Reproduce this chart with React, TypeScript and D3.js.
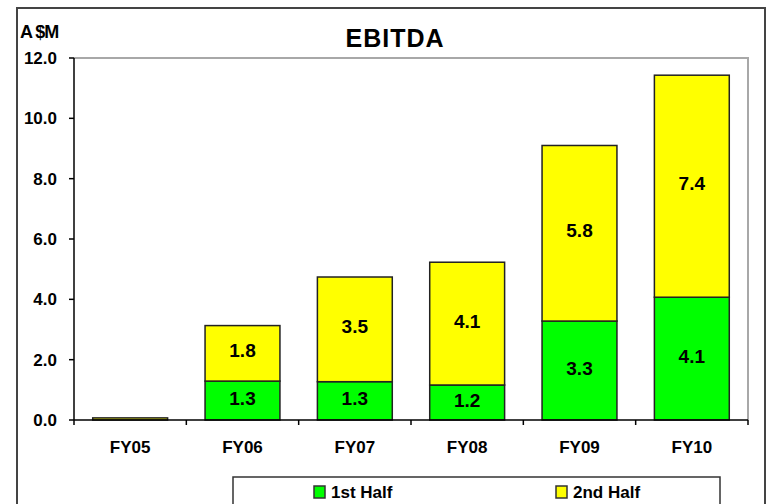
import React from "react";
import * as d3 from "d3";

const categories = ["FY05", "FY06", "FY07", "FY08", "FY09", "FY10"];
const firstHalf = [0.0, 1.29, 1.27, 1.16, 3.28, 4.07];
const secondHalf = [0.07, 1.84, 3.47, 4.07, 5.82, 7.36];
const yTicks = [0, 2, 4, 6, 8, 10, 12];
const seriesNames = ["1st Half", "2nd Half"];
const seriesColors = ["#00ff00", "#ffff00"];

const W = 766, H = 504;
const plot = { left: 74, right: 748, top: 58, bottom: 420 };
const font = "'Liberation Sans', Arial, sans-serif";

export default function App() {
  const x = d3.scaleBand<string>().domain(categories).range([plot.left, plot.right]).paddingInner(1 / 3).paddingOuter(1 / 6);
  const y = d3.scaleLinear().domain([0, 12]).range([plot.bottom, plot.top]);
  const bandStep = x.step();
  const stacked = categories.map((c, i) => {
    const a = firstHalf[i], b = secondHalf[i];
    return { c, segs: [ { y0: 0, y1: a, v: a, k: 0 }, { y0: a, y1: a + b, v: b, k: 1 } ] };
  });
  return (
    <div style={{ position: "absolute", left: 0, top: 0 }}>
      <svg width={W} height={H} style={{ display: "block" }}>
        <rect x={0} y={0} width={W} height={H} fill="#fff" />
        <rect x={17} y={8} width={748} height={510} fill="#fff" stroke="#444" strokeWidth={2} />
        {/* plot area border */}
        <path d={`M${plot.left},${plot.top}H${plot.right}V${plot.bottom}`} fill="none" stroke="#a8a8a8" strokeWidth={2} />
        {/* title */}
        <text x={395} y={47} textAnchor="middle" fontFamily={font} fontWeight="bold" fontSize={25} letterSpacing={1} fill="#000">EBITDA</text>
        <text x={20} y={38} fontFamily={font} fontWeight="bold" fontSize={18} fill="#000" letterSpacing={-1}>A $M</text>
        {/* bars */}
        {stacked.map((s) =>
          s.segs.map((g) => {
            const h = y(g.y0) - y(g.y1);
            if (h <= 0) return null;
            return (
              <g key={s.c + g.k}>
                <rect x={x(s.c)!} y={y(g.y1)} width={x.bandwidth()} height={h} fill={seriesColors[g.k]} stroke="#222" strokeWidth={1.5} />
                {g.v >= 0.5 && (
                  <text x={x(s.c)! + x.bandwidth() / 2} y={(y(g.y0) + y(g.y1)) / 2 + 4} textAnchor="middle" fontFamily={font} fontWeight="bold" fontSize={19} fill="#000">
                    {g.v.toFixed(1)}
                  </text>
                )}
              </g>
            );
          })
        )}
        {/* y axis */}
        <line x1={plot.left} x2={plot.left} y1={plot.top} y2={plot.bottom} stroke="#000" strokeWidth={1.5} />
        {yTicks.map((t) => (
          <g key={t}>
            <line x1={plot.left - 5} x2={plot.left} y1={y(t)} y2={y(t)} stroke="#000" strokeWidth={1.5} />
            <text x={57} y={y(t) + 6} textAnchor="end" fontFamily={font} fontWeight="bold" fontSize={17} fill="#000">{t.toFixed(1)}</text>
          </g>
        ))}
        {/* x axis */}
        <line x1={plot.left} x2={plot.right} y1={plot.bottom} y2={plot.bottom} stroke="#000" strokeWidth={1.5} />
        {categories.map((c, i) => (
          <g key={c}>
            <line x1={plot.left + i * bandStep} x2={plot.left + i * bandStep} y1={plot.bottom} y2={plot.bottom + 5} stroke="#000" strokeWidth={1.5} />
            <text x={x(c)! + x.bandwidth() / 2} y={453} textAnchor="middle" fontFamily={font} fontWeight="bold" fontSize={17} fill="#000">{c}</text>
          </g>
        ))}
        <line x1={plot.right} x2={plot.right} y1={plot.bottom} y2={plot.bottom + 5} stroke="#000" strokeWidth={1.5} />
        {/* legend */}
        <rect x={233} y={477} width={487} height={40} fill="#fff" stroke="#333" strokeWidth={1.5} />
        {seriesNames.map((n, i) => {
          const lx = i === 0 ? 314 : 556;
          return (
            <g key={n}>
              <rect x={lx} y={486} width={11} height={12} fill={seriesColors[i]} stroke="#333" strokeWidth={1.5} />
              <text x={lx + 17} y={498} fontFamily={font} fontWeight="bold" fontSize={17} fill="#000">{n}</text>
            </g>
          );
        })}
      </svg>
    </div>
  );
}
